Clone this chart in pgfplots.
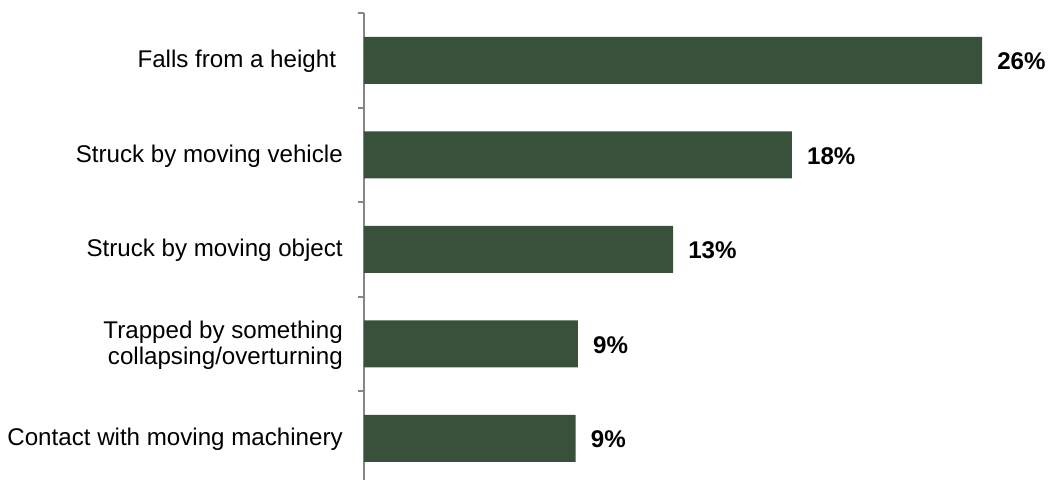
\documentclass[border=0pt]{standalone}
\usepackage{fontspec}
\setmainfont{Liberation Sans}
\usepackage{pgfplots}
\pgfplotsset{compat=1.18}
\definecolor{bargreen}{RGB}{56,81,59}
\definecolor{axgrey}{RGB}{134,134,134}
\begin{document}
\begin{tikzpicture}
\begin{axis}[
 at={(0,0)}, anchor=south west,
 scale only axis, width=499.2pt, height=354.375pt,
 xbar, bar width=35.25pt,
 xmin=0, xmax=28, ymin=-0.5, ymax=4.5, y dir=reverse,
 axis x line=none, axis y line*=left,
 y axis line style={axgrey, line width=1.5pt},
 tick align=outside,
 ytick={0,1,2,3,4},
 yticklabels={Falls from a height\ , Struck by moving vehicle, Struck by moving object, {Trapped by something\\collapsing/overturning}, Contact with moving machinery},
 major tick length=0pt,
 yticklabel style={align=right, anchor=east, inner sep=0pt, xshift=-15.75pt, yshift=-1pt, font=\fontsize{18.1}{19}\selectfont, text=black},
 extra y ticks={-0.5,0.5,1.5,2.5,3.5,4.5},
 extra y tick labels={},
 extra y tick style={major tick length=4.5pt, tick style={axgrey, line width=1.5pt}},
 point meta=explicit symbolic,
 nodes near coords,
 nodes near coords style={anchor=west, inner sep=0pt, xshift=11.25pt, yshift=-1pt, font=\fontsize{18.1}{19}\selectfont\bfseries, text=black},
 clip=false,
]
\addplot[fill=bargreen, draw=none] coordinates {(26,0) [26\%] (18,1) [18\%] (13,2) [13\%] (9.0,3) [9\%] (8.9,4) [9\%]};
\end{axis}
\pgfresetboundingbox
\useasboundingbox (-273pt,4.875pt) rectangle (513pt,364.125pt);
\end{tikzpicture}
\end{document}
